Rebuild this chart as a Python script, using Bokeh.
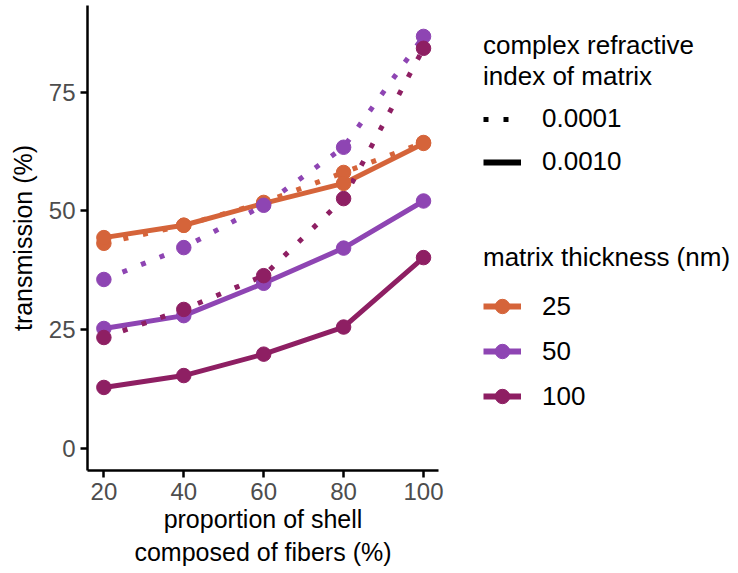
from bokeh.plotting import figure
from bokeh.models import Range1d, FixedTicker, Legend, LegendItem
from bokeh.layouts import row, column
from bokeh.embed import file_html
from bokeh.resources import INLINE

proportion = [20, 40, 60, 80, 100]
y_ticks = [0, 25, 50, 75]
thickness_labels = ["25", "50", "100"]
index_labels = ["0.0001", "0.0010"]
colors = ["#D5643A", "#8E45B3", "#8E1F63"]

t25_k0001 = [43.2, 47.0, 51.8, 58.1, 64.4]
t25_k0010 = [44.4, 47.0, 51.6, 55.8, 64.2]
t50_k0001 = [35.6, 42.3, 51.2, 63.4, 86.7]
t50_k0010 = [25.3, 28.0, 34.8, 42.2, 52.1]
t100_k0001 = [23.4, 29.3, 36.4, 52.6, 84.2]
t100_k0010 = [12.9, 15.4, 19.9, 25.6, 40.2]

dotted_series = [t25_k0001, t50_k0001, t100_k0001]
solid_series = [t25_k0010, t50_k0010, t100_k0010]

FONT = "Liberation Sans"
DOT = "5 15"
LW = 5

p = figure(width=460, height=573, x_range=Range1d(15.9, 103.75), y_range=Range1d(-4.56, 93.2),
           output_backend="svg", toolbar_location=None,
           min_border_left=87, min_border_top=5, min_border_right=22, min_border_bottom=103)
p.outline_line_color = None
p.xgrid.visible = False
p.ygrid.visible = False

for c, d, s in zip(colors, dotted_series, solid_series):
    p.line(proportion, d, line_color=c, line_width=LW, line_dash=DOT, line_cap="butt")
    p.line(proportion, s, line_color=c, line_width=LW)
for c, d, s in zip(colors, dotted_series, solid_series):
    p.scatter(proportion, d, size=14.5, fill_color=c, line_color=c)
    p.scatter(proportion, s, size=14.5, fill_color=c, line_color=c)

p.xaxis.ticker = FixedTicker(ticks=proportion)
p.yaxis.ticker = FixedTicker(ticks=y_ticks)
for ax in (p.xaxis[0], p.yaxis[0]):
    ax.axis_line_width = 2.5
    ax.axis_line_color = "black"
    ax.major_tick_line_width = 2.5
    ax.major_tick_line_color = "black"
    ax.major_tick_out = 7
    ax.major_tick_in = 0
    ax.minor_tick_line_color = None
    ax.major_label_text_font = FONT
    ax.major_label_text_font_size = "24px"
    ax.major_label_text_color = "#4D4D4D"
    ax.major_label_standoff = 5
    ax.axis_label_text_font = FONT
    ax.axis_label_text_font_size = "25px"
    ax.axis_label_text_font_style = "normal"
    ax.axis_label_text_color = "black"
p.xaxis.axis_label = "proportion of shell\ncomposed of fibers (%)"
p.yaxis.axis_label = "transmission (%)"
p.xaxis.axis_label_standoff = 2
p.yaxis.axis_label_standoff = 9


def legend_fig(h, top):
    f = figure(width=278, height=h, x_range=Range1d(0, 1), y_range=Range1d(0, 1),
               output_backend="svg", toolbar_location=None,
               x_axis_location=None, y_axis_location=None,
               min_border_left=23, min_border_top=top, min_border_right=0, min_border_bottom=0)
    f.outline_line_color = None
    f.xgrid.visible = False
    f.ygrid.visible = False
    return f


def style_legend(leg, spacing, standoff, glyph_height=20):
    leg.location = "top_left"
    leg.margin = 0
    leg.padding = 0
    leg.border_line_color = None
    leg.background_fill_alpha = 0
    leg.title_text_font = FONT
    leg.title_text_font_size = "26px"
    leg.title_text_font_style = "normal"
    leg.title_text_color = "black"
    leg.title_standoff = standoff
    leg.label_text_font = FONT
    leg.label_text_font_size = "26px"
    leg.label_text_color = "black"
    leg.label_standoff = 21
    leg.glyph_width = 38
    leg.glyph_height = glyph_height
    leg.label_height = 24
    leg.spacing = spacing


# hidden helper renderers (outside visible range) used only for legend glyphs
hx = [-10, -9]
hy = [-10, -9]

fa = legend_fig(224, 30)
dotted_r = fa.line(x=hx, y=hy, line_color="black", line_width=LW, line_dash=DOT, line_cap="butt")
solid_r = fa.line(x=hx, y=hy, line_color="black", line_width=6)
leg1 = Legend(items=[LegendItem(label=index_labels[0], renderers=[dotted_r]),
                     LegendItem(label=index_labels[1], renderers=[solid_r])],
              title="complex refractive\nindex of matrix")
style_legend(leg1, 12, 11)
fa.add_layout(leg1)

fb = legend_fig(349, 18)
items = []
for lab, c in zip(thickness_labels, colors):
    lr = fb.line(x=hx, y=hy, line_color=c, line_width=6)
    sr = fb.scatter(x=hx, y=hy, size=15, fill_color=c, line_color=c)
    items.append(LegendItem(label=lab, renderers=[lr, sr]))
leg2 = Legend(items=items, title="matrix thickness (nm)")
style_legend(leg2, 9, 15, glyph_height=36)
fb.add_layout(leg2)

layout = row(p, column(fa, fb, spacing=0), spacing=0)
open("out.html", "w").write(file_html(layout, INLINE))
